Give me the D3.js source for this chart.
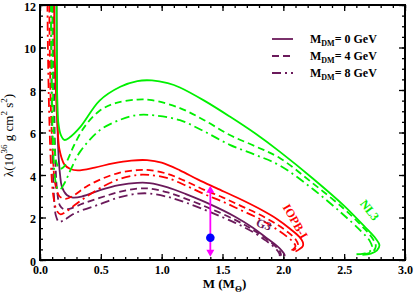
<!DOCTYPE html>
<html>
<head>
<meta charset="utf-8">
<script src="https://cdn.jsdelivr.net/npm/d3@7"></script>
<style>
  body { margin: 0; background: #fff; }
  text { font-family: "Liberation Serif", "DejaVu Serif", serif; }
  .tick text { font-weight: bold; font-size: 12px; }
</style>
</head>
<body>
<div id="chart"></div>
<script>
// M (solar masses) vs lambda (10^36 g cm^2 s^2)
var g3_0 = [[0.135,13],[0.138,10],[0.142,7],[0.15,5.2],[0.165,4.0],[0.18,3.45],[0.22,3.06],[0.27,2.94],[0.35,3.0],[0.5,3.3],[0.65,3.52],[0.8,3.63],[0.9,3.62],[1.05,3.42],[1.2,3.1],[1.4,2.62],[1.6,2.05],[1.75,1.52],[1.87,1.0],[1.95,0.65],[1.99,0.42],[2.01,0.25],[2.01,0.18]];
var g3_4 = [[0.11,13],[0.113,10],[0.118,7],[0.125,5],[0.14,3.3],[0.165,2.55],[0.2,2.38],[0.25,2.42],[0.35,2.65],[0.49,2.92],[0.65,3.2],[0.8,3.36],[0.9,3.36],[1.05,3.18],[1.2,2.88],[1.4,2.42],[1.6,1.9],[1.75,1.42],[1.87,0.95],[1.94,0.62],[1.97,0.42],[1.98,0.28],[1.98,0.2]];
var g3_8 = [[0.09,13],[0.093,10],[0.097,7],[0.103,5],[0.115,3.0],[0.13,2.1],[0.155,1.8],[0.19,1.85],[0.27,2.15],[0.35,2.35],[0.49,2.62],[0.65,2.95],[0.8,3.12],[0.9,3.13],[1.05,2.97],[1.2,2.7],[1.4,2.25],[1.6,1.76],[1.75,1.32],[1.86,0.9],[1.93,0.58],[1.96,0.38],[1.97,0.25],[1.97,0.18]];

var iopb_0 = [[0.115,13],[0.12,10],[0.13,8],[0.145,6.2],[0.16,5.2],[0.2,4.5],[0.25,4.28],[0.31,4.22],[0.45,4.35],[0.6,4.55],[0.75,4.68],[0.88,4.7],[1.0,4.58],[1.15,4.22],[1.3,3.78],[1.45,3.38],[1.64,2.88],[1.8,2.42],[1.95,1.92],[2.06,1.45],[2.13,1.1],[2.16,0.85],[2.16,0.65],[2.13,0.5],[2.1,0.4]];
var iopb_4 = [[0.075,13],[0.08,10],[0.09,7],[0.105,5],[0.125,3.6],[0.16,3.0],[0.21,2.88],[0.28,3.05],[0.38,3.45],[0.5,3.8],[0.65,4.1],[0.8,4.23],[0.9,4.23],[1.05,4.05],[1.2,3.7],[1.35,3.3],[1.5,2.95],[1.65,2.55],[1.8,2.15],[1.94,1.7],[2.04,1.3],[2.1,0.98],[2.12,0.75],[2.11,0.58],[2.08,0.45]];
var iopb_8 = [[0.06,13],[0.065,10],[0.075,7],[0.09,4.5],[0.11,3.0],[0.14,2.3],[0.17,2.15],[0.22,2.3],[0.3,2.65],[0.4,3.05],[0.5,3.4],[0.65,3.8],[0.8,4.0],[0.9,4.0],[1.05,3.85],[1.2,3.5],[1.35,3.1],[1.5,2.75],[1.65,2.35],[1.8,1.95],[1.93,1.5],[2.03,1.1],[2.08,0.85],[2.1,0.65],[2.08,0.5],[2.05,0.42]];

var nl3_0 = [[0.135,13],[0.138,10],[0.142,7.5],[0.15,6.5],[0.17,5.9],[0.2,5.65],[0.24,5.75],[0.33,6.25],[0.49,7.5],[0.66,8.15],[0.8,8.42],[0.92,8.45],[1.05,8.32],[1.15,8.12],[1.35,7.5],[1.56,6.75],[1.77,5.95],[1.97,5.1],[2.24,3.85],[2.5,2.55],[2.68,1.5],[2.76,1.0],[2.79,0.7],[2.77,0.45],[2.72,0.3],[2.65,0.24]];
var nl3_4 = [[0.1,13],[0.103,10],[0.108,7.5],[0.118,5.5],[0.135,4.6],[0.16,4.3],[0.19,4.35],[0.23,4.75],[0.28,5.4],[0.37,6.3],[0.49,7.02],[0.62,7.38],[0.8,7.55],[0.92,7.52],[1.15,7.15],[1.35,6.58],[1.56,5.88],[1.77,5.35],[1.97,4.8],[2.24,3.62],[2.5,2.4],[2.67,1.45],[2.74,0.95],[2.76,0.65],[2.74,0.42],[2.69,0.3],[2.63,0.26]];
var nl3_8 = [[0.09,13],[0.093,10],[0.098,7.5],[0.108,5.2],[0.125,3.8],[0.145,3.35],[0.165,3.32],[0.2,3.6],[0.26,4.35],[0.33,5.1],[0.49,6.1],[0.66,6.6],[0.8,6.82],[0.95,6.8],[1.15,6.58],[1.35,6.05],[1.56,5.42],[1.77,4.95],[1.97,4.45],[2.24,3.35],[2.48,2.2],[2.64,1.35],[2.71,0.9],[2.73,0.6],[2.71,0.4],[2.66,0.3],[2.6,0.27]];

// observational constraint at 1.4 Msun: [mass, central, lower, upper]
var obsPoint = [1.4, 1.05, 0.15, 3.5];

var dmLabels = ['0', '4', '8'];
var xTicks = [0, 0.5, 1.0, 1.5, 2.0, 2.5, 3.0];
var yTicks = [0, 2, 4, 6, 8, 10, 12];

var width = 415;
var height = 295;
var margin = { top: 5, right: 10, bottom: 35, left: 40 };
var graphWidth = width - margin.left - margin.right;
var graphHeight = height - margin.top - margin.bottom;

var purple = '#6b1a5b';
var red = '#ff0000';
var green = '#00f000';
var dashes = [null, '7,4', '9,4,2,4'];

var svg = d3.select('#chart').append('svg')
  .attr('width', width)
  .attr('height', height);
var graph = svg.append('g')
  .attr('transform', 'translate(' + margin.left + ',' + margin.top + ')');

var x = d3.scaleLinear().domain([0, 3]).range([0, graphWidth]);
var y = d3.scaleLinear().domain([0, 12]).range([graphHeight, 0]);

graph.append('clipPath').attr('id', 'clip')
  .append('rect').attr('width', graphWidth).attr('height', graphHeight);

// axes, ticks pointing inward
function styleAxis(g) {
  g.select('.domain').remove();
  g.selectAll('line').attr('stroke', '#000').attr('stroke-width', 1.3);
}
var xMinor = d3.range(0, 3.001, 0.1);
var yMinor = d3.range(0, 12.001, 0.5);

graph.append('g').attr('transform', 'translate(0,' + graphHeight + ')')
  .call(d3.axisBottom(x).tickValues(xMinor).tickFormat('').tickSize(-3)).call(styleAxis);
graph.append('g').attr('transform', 'translate(0,' + graphHeight + ')')
  .call(d3.axisBottom(x).tickValues(xTicks).tickFormat(d3.format('.1f')).tickSize(-6).tickPadding(5))
  .call(styleAxis);
graph.append('g')
  .call(d3.axisTop(x).tickValues(xMinor).tickFormat('').tickSize(-3)).call(styleAxis);
graph.append('g')
  .call(d3.axisTop(x).tickValues(xTicks).tickFormat('').tickSize(-6)).call(styleAxis);

graph.append('g')
  .call(d3.axisLeft(y).tickValues(yMinor).tickFormat('').tickSize(-3)).call(styleAxis);
var yAxisGroup = graph.append('g')
  .call(d3.axisLeft(y).tickValues(yTicks).tickFormat(d3.format('d')).tickSize(-6).tickPadding(4))
  .call(styleAxis);
yAxisGroup.selectAll('.tick text').attr('dy', '0.42em');
graph.append('g').attr('transform', 'translate(' + graphWidth + ',0)')
  .call(d3.axisRight(y).tickValues(yMinor).tickFormat('').tickSize(-3)).call(styleAxis);
graph.append('g').attr('transform', 'translate(' + graphWidth + ',0)')
  .call(d3.axisRight(y).tickValues(yTicks).tickFormat('').tickSize(-6)).call(styleAxis);

graph.selectAll('.tick text')
  .attr('fill', '#000')
  .style('font-family', '"Liberation Serif", serif');

// curves
var line = d3.line()
  .x(d => x(d[0]))
  .y(d => y(d[1]))
  .curve(d3.curveCatmullRom.alpha(0.5));

var curves = [
  { data: g3_0, color: purple, dm: 0 }, { data: g3_4, color: purple, dm: 1 }, { data: g3_8, color: purple, dm: 2 },
  { data: iopb_0, color: red, dm: 0 }, { data: iopb_4, color: red, dm: 1 }, { data: iopb_8, color: red, dm: 2 },
  { data: nl3_0, color: green, dm: 0 }, { data: nl3_4, color: green, dm: 1 }, { data: nl3_8, color: green, dm: 2 }
];

var curveGroup = graph.append('g').attr('clip-path', 'url(#clip)');
curveGroup.selectAll('path')
  .data(curves)
  .enter()
  .append('path')
  .attr('d', d => line(d.data))
  .attr('fill', 'none')
  .attr('stroke', d => d.color)
  .attr('stroke-width', 1.8)
  .attr('stroke-dasharray', d => dashes[d.dm]);

// error bar with arrow heads
var ex = x(obsPoint[0]);
var yLo = y(obsPoint[2]);
var yHi = y(obsPoint[3]);
graph.append('line')
  .attr('x1', ex).attr('x2', ex)
  .attr('y1', yHi + 5).attr('y2', yLo - 5)
  .attr('stroke', '#ff00ff').attr('stroke-width', 1.8);
graph.append('path')
  .attr('d', 'M' + ex + ',' + yHi + 'L' + (ex - 4) + ',' + (yHi + 7) + 'L' + (ex + 4) + ',' + (yHi + 7) + 'Z')
  .attr('fill', '#ff00ff');
graph.append('path')
  .attr('d', 'M' + ex + ',' + yLo + 'L' + (ex - 4) + ',' + (yLo - 7) + 'L' + (ex + 4) + ',' + (yLo - 7) + 'Z')
  .attr('fill', '#ff00ff');
graph.append('circle')
  .attr('cx', ex).attr('cy', y(obsPoint[1])).attr('r', 4.3)
  .attr('fill', '#0000ff');

// curve labels
function curveLabel(txt, cx, cy, angle, color) {
  graph.append('text')
    .attr('transform', 'translate(' + cx + ',' + cy + ') rotate(' + angle + ')')
    .attr('text-anchor', 'middle')
    .attr('dy', '0.35em')
    .attr('fill', color)
    .style('font-weight', 'bold')
    .style('font-size', '12px')
    .text(txt);
}
curveLabel('G3', x(1.84), y(1.68), 20, purple);
curveLabel('IOPB-I', x(2.1), y(1.82), 60, red);
curveLabel('NL3', x(2.71), y(2.35), 52, green);

// frame
graph.append('rect')
  .attr('width', graphWidth).attr('height', graphHeight)
  .attr('fill', 'none').attr('stroke', '#000').attr('stroke-width', 2);

// legend
var legend = svg.append('g').attr('transform', 'translate(272,39)');
dmLabels.forEach(function (m, i) {
  var row = legend.append('g').attr('transform', 'translate(0,' + i * 17 + ')');
  row.append('line')
    .attr('x1', 0).attr('x2', 21)
    .attr('stroke', purple).attr('stroke-width', 1.8)
    .attr('stroke-dasharray', dashes[i]);
  var t = row.append('text')
    .attr('x', 38).attr('y', 4)
    .style('font-weight', 'bold').style('font-size', '12px');
  t.append('tspan').text('M');
  t.append('tspan').attr('dy', 3).style('font-size', '8px').text('DM');
  t.append('tspan').attr('dy', -3).text('= ' + m + ' GeV');
});

// axis titles
var xt = svg.append('text')
  .attr('x', margin.left + x(1.5) + 2).attr('y', 288)
  .attr('text-anchor', 'middle')
  .style('font-weight', 'bold').style('font-size', '13px');
xt.append('tspan').text('M (M');
xt.append('tspan').attr('dy', 4).style('font-size', '9px').text('\u0398');
xt.append('tspan').attr('dy', -4).text(')');

var yt = svg.append('text')
  .attr('transform', 'translate(13,' + (margin.top + y(6) + 3) + ') rotate(-90)')
  .attr('text-anchor', 'middle')
  .style('font-size', '13px');
yt.append('tspan').text('\u03bb(10');
yt.append('tspan').attr('dy', -6).style('font-size', '9px').text('36');
yt.append('tspan').attr('dy', 6).text(' g cm');
yt.append('tspan').attr('dy', -6).style('font-size', '9px').text('2');
yt.append('tspan').attr('dy', 6).text(' s');
yt.append('tspan').attr('dy', -6).style('font-size', '9px').text('2');
yt.append('tspan').attr('dy', 6).text(')');
</script>
</body>
</html>
